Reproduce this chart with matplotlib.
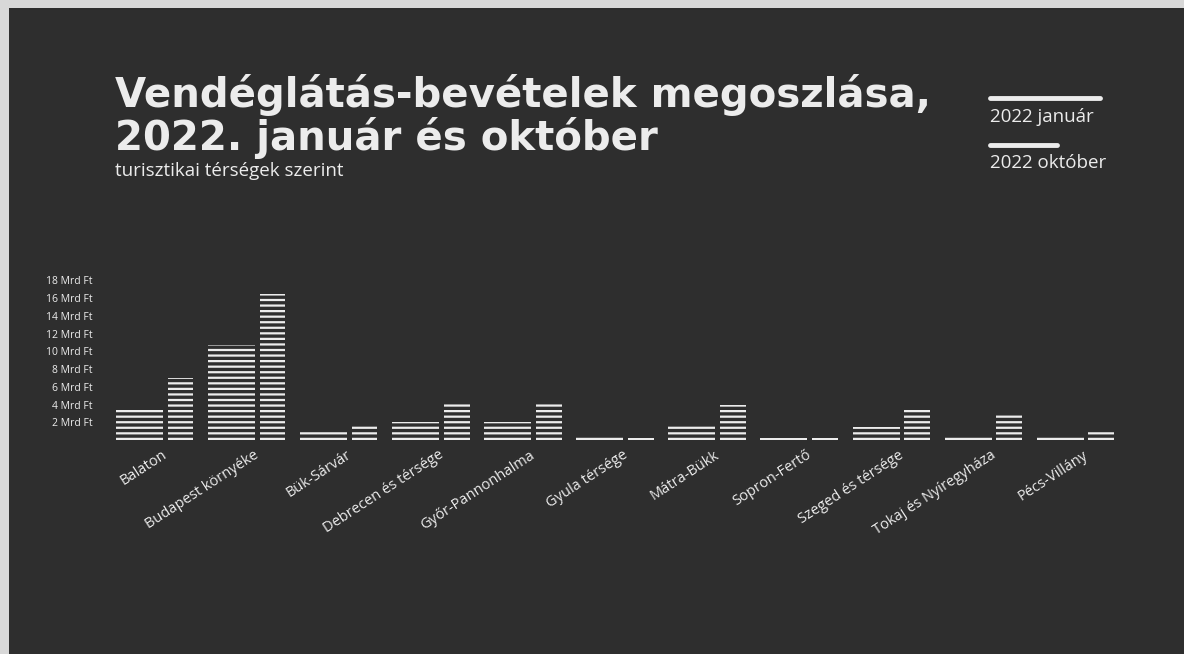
import matplotlib
matplotlib.use("Agg")
import matplotlib.pyplot as plt
from matplotlib.patches import Rectangle
from matplotlib.lines import Line2D
import numpy as np

categories = ["Balaton", "Budapest környéke", "Bük-Sárvár", "Debrecen és térsége",
              "Győr-Pannonhalma", "Gyula térsége", "Mátra-Bükk", "Sopron-Fertő",
              "Szeged és térsége", "Tokaj és Nyíregyháza", "Pécs-Villány"]
jan_2022 = [3.35, 10.7, 0.85, 2.0, 2.0, 0.42, 1.65, 0.25, 1.45, 0.55, 0.55]
okt_2022 = [6.95, 16.4, 1.55, 4.25, 4.15, 0.25, 3.9, 0.2, 3.7, 3.0, 1.1]
yticks = [2, 4, 6, 8, 10, 12, 14, 16, 18]
ytick_labels = [f"{v} Mrd Ft" for v in yticks]
series_labels = ["2022 január", "2022 október"]
title_lines = ["Vendéglátás-bevételek megoszlása,", "2022. január és október"]
subtitle = "turisztikai térségek szerint"

BG = "#2e2e2e"
FG = "#ececec"
FONT = ["Open Sans", "DejaVu Sans"]

plt.rcParams["hatch.linewidth"] = 2.4
plt.rcParams["font.family"] = FONT

W, H = 1184, 654
fig = plt.figure(figsize=(W / 100, H / 100), dpi=100)
fig.patch.set_facecolor("#d8d8d8")
fig.patches.append(Rectangle((9 / W, 0), 1 - 9 / W, 1 - 8 / H, transform=fig.transFigure,
                             facecolor=BG, edgecolor="none", zorder=-5))

ax = fig.add_axes([104 / W, (H - 440) / H, (1126 - 104) / W, (440 - 278.5) / H])
ax.set_facecolor("none")
ax.set_zorder(2)

x = np.arange(len(categories))
jan_w, okt_w = 0.51, 0.28
ax.bar(x - 0.42, jan_2022, width=jan_w, align="edge", color=FG, edgecolor=BG,
       linewidth=0, hatch="---", label=series_labels[0])
ax.bar(x + 0.14, okt_2022, width=okt_w, align="edge", color=FG, edgecolor=BG,
       linewidth=0, hatch="---", label=series_labels[1])

ax.set_xlim(-0.55, len(categories) - 0.45)
ax.set_ylim(0, 18.2)
ax.set_yticks(yticks)
ax.set_yticklabels(ytick_labels, fontsize=7.5, color=FG)
ax.set_xticks(x + 0.12)
ax.set_xticklabels(categories, rotation=33, ha="right", va="center",
                   rotation_mode="anchor", fontsize=10.5, color=FG)
ax.tick_params(axis="both", length=0)
ax.tick_params(axis="y", pad=8)
ax.tick_params(axis="x", pad=10)
for s in ax.spines.values():
    s.set_visible(False)

TFONT = ["DejaVu Sans"]
fig.text(115 / W, 1 - 107 / H, title_lines[0], fontsize=29, family=TFONT,
         fontweight="bold", color=FG, ha="left", va="baseline")
fig.text(115 / W, 1 - 150 / H, title_lines[1], fontsize=29, family=TFONT,
         fontweight="bold", color=FG, ha="left", va="baseline")
fig.text(115 / W, 1 - 176 / H, subtitle, fontsize=13.5, color=FG, ha="left", va="baseline")

# legend
fig.lines.append(Line2D([990 / W, 1100 / W], [1 - 98 / H, 1 - 98 / H], transform=fig.transFigure,
                        color=FG, linewidth=3.5, solid_capstyle="round"))
fig.text(990 / W, 1 - 122 / H, series_labels[0], fontsize=13.5, color=FG, ha="left", va="baseline")
fig.lines.append(Line2D([990 / W, 1057 / W], [1 - 145 / H, 1 - 145 / H], transform=fig.transFigure,
                        color=FG, linewidth=3.5, solid_capstyle="round"))
fig.text(990 / W, 1 - 168 / H, series_labels[1], fontsize=13.5, color=FG, ha="left", va="baseline")

fig.savefig("out.png", dpi=100, facecolor=fig.get_facecolor())
